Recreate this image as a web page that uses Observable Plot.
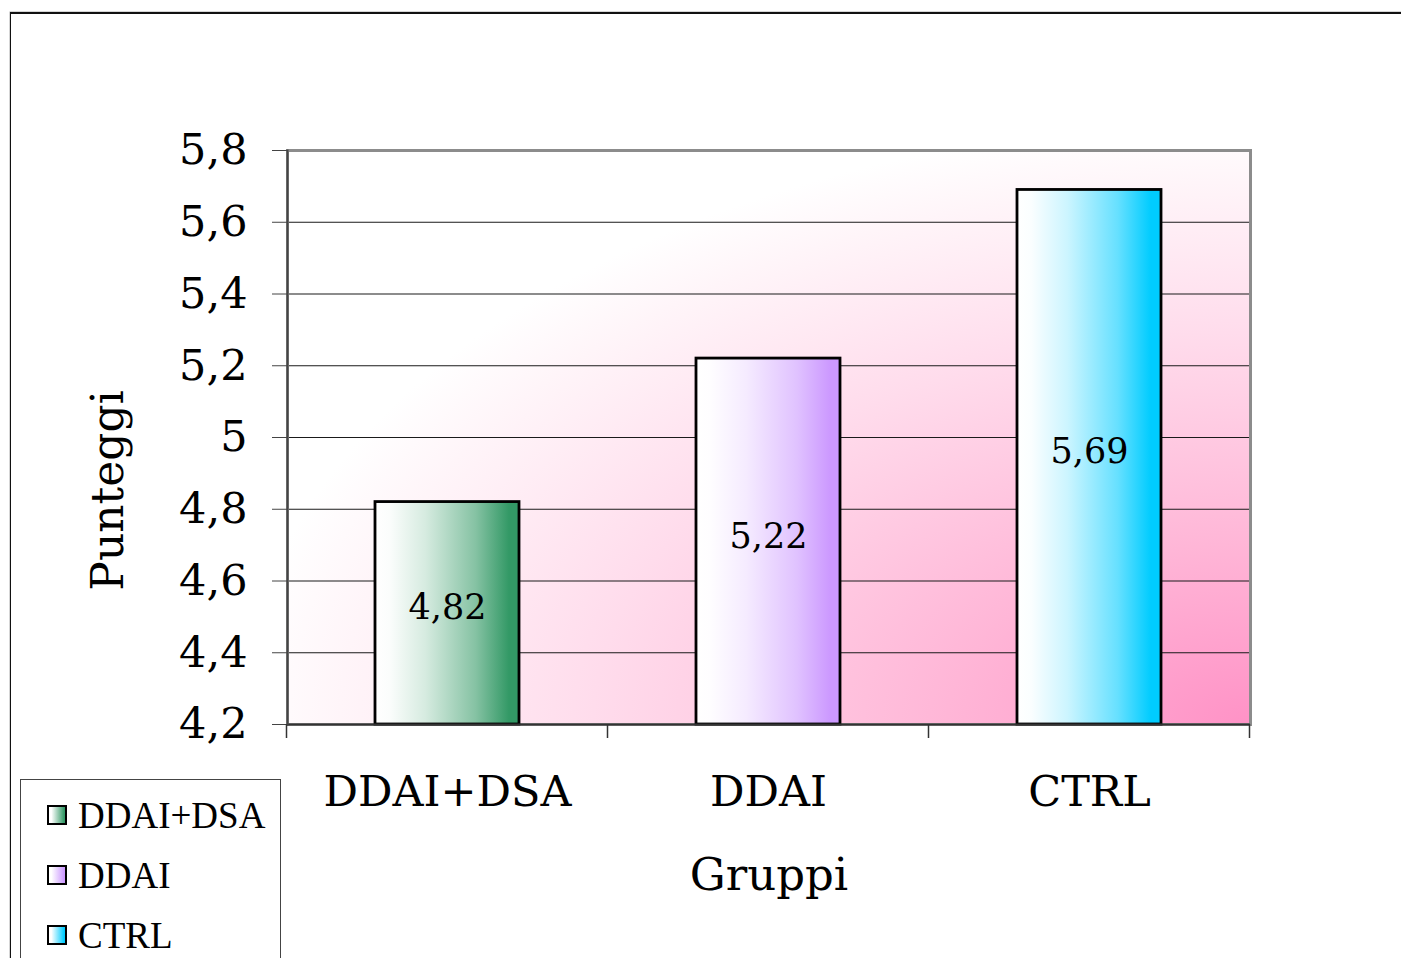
<!DOCTYPE html>
<html>
<head>
<meta charset="utf-8">
<script src="https://cdn.jsdelivr.net/npm/d3@7"></script>
<script src="https://cdn.jsdelivr.net/npm/@observablehq/plot@0.6"></script>
<style>
  html, body { margin: 0; padding: 0; background: #fff; }
  #wrap { position: relative; width: 1401px; height: 958px; overflow: hidden; }
  #outer { position: absolute; left: 10px; top: 12px; width: 1500px; height: 1000px;
           border-top: 2px solid #111; border-left: 1.5px solid #111;
           box-shadow: -0.5px -0.5px 0 #aaa; }
  #chart { position: absolute; left: 0; top: 0; }
  #legend { position: absolute; left: 20px; top: 779px; width: 259px; height: 200px;
            border: 1.5px solid #444; background: #fff;
            font-family: "Liberation Serif", serif; font-size: 37px; color: #000; }
  .item { position: absolute; left: 26px; height: 40px; display: flex; align-items: center; }
  .sw { width: 16px; height: 16px; border: 2px solid #000; margin-right: 11px; }
</style>
</head>
<body>
<div id="wrap">
  <div id="outer"></div>
  <div id="chart"></div>
  <div id="legend"></div>
</div>
<script>
const categories = ["DDAI+DSA", "DDAI", "CTRL"];
const values = [4.82, 5.22, 5.69];
const valueLabels = ["4,82", "5,22", "5,69"];
const barColors = ["#339966", "#cc99ff", "#00ccff"];
const yTicks = [4.2, 4.4, 4.6, 4.8, 5.0, 5.2, 5.4, 5.6, 5.8];
const yTickLabels = ["4,2", "4,4", "4,6", "4,8", "5", "5,2", "5,4", "5,6", "5,8"];
const yTitle = "Punteggi";
const xTitle = "Gruppi";
const yMin = 4.2, yMax = 5.8;

const data = categories.map((c, i) => ({cat: c, value: values[i], label: valueLabels[i], idx: i}));
const tickLabel = d => yTickLabels[yTicks.findIndex(t => Math.abs(t - d) < 1e-9)];

const barMarks = data.map(d => Plot.barY([d], {
  x: "cat", y1: () => yMin, y2: "value",
  fill: `url(#barGrad${d.idx})`, stroke: "#000", strokeWidth: 2.8
}));

const svg = Plot.plot({
  width: 1401, height: 958,
  marginLeft: 287, marginRight: 151, marginTop: 150, marginBottom: 234,
  style: {fontFamily: "DejaVu Serif", background: "transparent", color: "#000"},
  x: {domain: categories, paddingInner: 0.55, paddingOuter: 0.275},
  y: {domain: [yMin, yMax]},
  marks: [
    Plot.frame({fill: "url(#bgGrad)", stroke: "none"}),
    Plot.ruleY(yTicks.slice(1, -1), {stroke: "#1a1a1a", strokeWidth: 1.2}),
    Plot.frame({stroke: "#8c8c8c", strokeWidth: 3}),
    ...barMarks,
    Plot.ruleY([yMin], {stroke: "#333", strokeWidth: 2}),
    Plot.frame({anchor: "left", stroke: "#444", strokeWidth: 2}),
    Plot.text(data, {x: "cat", y: d => (yMin + d.value) / 2, text: "label",
      fontSize: 35, dy: -5, lineAnchor: "middle", fill: "#000"}),
    Plot.axisY({ticks: yTicks, tickFormat: tickLabel, tickSize: 15, tickPadding: 25,
      fontSize: 43, label: null, stroke: "#444"}),
    Plot.axisX({tickSize: 0, tickPadding: 51, fontSize: 43, label: null}),
    Plot.text([yTitle], {frameAnchor: "left", rotate: -90, dx: -179, dy: 53,
      fontSize: 44, textAnchor: "middle", lineAnchor: "middle"}),
    Plot.text([xTitle], {frameAnchor: "bottom", dy: 151, fontSize: 45,
      textAnchor: "middle", lineAnchor: "middle"})
  ]
});

const xs = svg.scale("x");
const root = d3.select(svg);
const defs = root.insert("defs", ":first-child");
const bg = defs.append("radialGradient").attr("id", "bgGrad")
  .attr("cx", 1).attr("cy", 1).attr("r", 1.05).attr("fx", 1).attr("fy", 1);
[[0, "#ff92c6"], [0.3, "#ffb6d7"], [0.65, "#ffdcec"], [0.9, "#fff5f9"], [1, "#ffffff"]]
  .forEach(([o, c]) => bg.append("stop").attr("offset", o).attr("stop-color", c));
barColors.forEach((col, i) => {
  const g = defs.append("linearGradient").attr("id", `barGrad${i}`)
    .attr("x1", 0).attr("y1", 0).attr("x2", 1).attr("y2", 0);
  const mix = t => d3.interpolateRgb("#ffffff", col)(t);
  [[0, 0], [0.1, 0.02], [0.35, 0.2], [0.7, 0.6], [0.93, 1], [1, 1]]
    .forEach(([o, t]) => g.append("stop").attr("offset", o).attr("stop-color", mix(t)));
});

// boundary ticks on the x axis (band edges)
const step = xs.step, bw = xs.bandwidth;
const edges = [xs.apply(categories[0]) - (step - bw) / 2];
categories.forEach(c => edges.push(xs.apply(c) + bw + (step - bw) / 2));
const yBottom = svg.scale("y").apply(yMin);
root.append("g").selectAll("line").data(edges).join("line")
  .attr("x1", d => d).attr("x2", d => d).attr("y1", yBottom).attr("y2", yBottom + 14)
  .attr("stroke", "#333").attr("stroke-width", 1.5);

document.getElementById("chart").appendChild(svg);

// legend
const legend = d3.select("#legend");
categories.forEach((c, i) => {
  const it = legend.append("div").attr("class", "item").style("top", `${15 + i * 60}px`);
  it.append("div").attr("class", "sw")
    .style("background", `linear-gradient(to right, #fff 0%, #fff 15%, ${barColors[i]} 95%)`);
  it.append("span").text(c);
});
</script>
</body>
</html>
